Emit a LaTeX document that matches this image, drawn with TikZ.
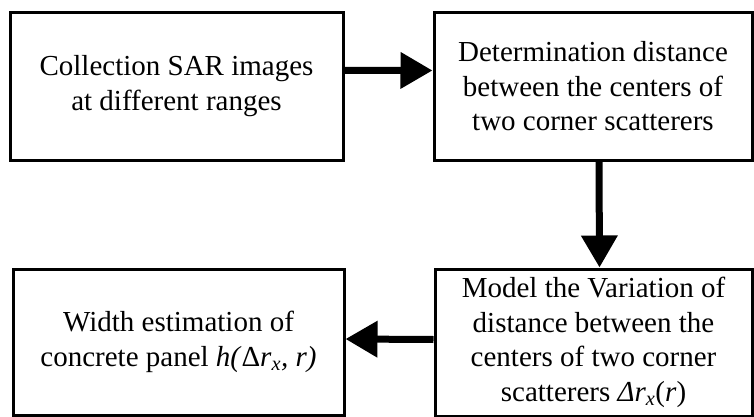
\documentclass[tikz,border=0pt]{standalone}
\usepackage{fontspec}
\setmainfont{Liberation Serif}
\usetikzlibrary{arrows.meta}

\begin{document}
\begin{tikzpicture}[x=1pt,y=-1pt,
  box/.style={draw,line width=3pt,align=center,inner sep=0pt,
    font=\fontsize{29}{34.5}\selectfont},
  arr/.style={line width=7pt,-{Triangle[length=32pt,width=35pt]}}]
\useasboundingbox (0,0) rectangle (754,417);

% boxes
\node[box,minimum width=333pt,minimum height=147.5pt] (collect) at (176.5,86.3)
  {Collection SAR images\\at different ranges};
\node[box,minimum width=318pt,minimum height=147pt] (dist) at (593,86.5)
  {Determination distance\\between the centers of\\two corner scatterers};
\node[box,minimum width=317pt,minimum height=147pt] (model) at (593.5,342.5)
  {Model the Variation of\\distance between the\\centers of two corner\\
   scatterers \textit{Δr}\textsubscript{\textit{x}}(\textit{r})};
\node[box,minimum width=331pt,minimum height=146pt] (width) at (178.5,342)
  {Width estimation of\\concrete panel \textit{h(}Δ\textit{r}\textsubscript{\textit{x}}\textit{, r)}};

% arrows
\draw[arr] ([yshift=16pt]collect.east) -- ([yshift=16pt]dist.west);
\draw[arr] ([xshift=6pt]dist.south) -- ([xshift=6pt]model.north);
\draw[arr] ([yshift=3pt]model.west) -- ([yshift=3pt]width.east);

\end{tikzpicture}
\end{document}
